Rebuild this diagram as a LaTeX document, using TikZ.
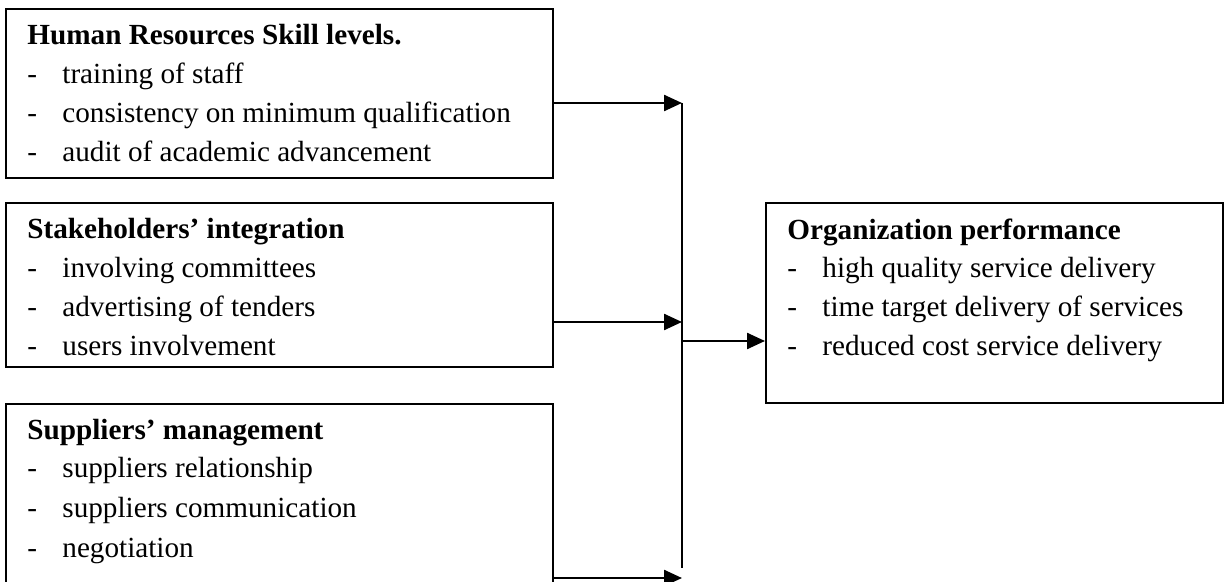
\documentclass[tikz,border=0pt]{standalone}
\usepackage{fontspec}
\setmainfont{Liberation Serif}
\usetikzlibrary{arrows.meta}
\begin{document}
\begin{tikzpicture}[x=0.5pt,y=-0.5pt,
  box/.style={draw,line width=1.1pt,inner sep=0pt,anchor=north west},
  txt/.style={inner sep=0pt,anchor=base west,font=\fontsize{14.6}{19.5}\selectfont},
  hd/.style={txt,font=\fontsize{14.6}{19.5}\selectfont\bfseries},
  conn/.style={line width=1.2pt},
  arr/.style={conn,-{Triangle[length=9pt,width=8pt]}}]
\useasboundingbox (0,0) rectangle (1226,582);
\clip (0,0) rectangle (1226,582);
% boxes
\node[box,minimum width=273.5pt,minimum height=84.5pt] (b1) at (5,8) {};
\node[box,minimum width=273.5pt,minimum height=82pt] (b2) at (5,202) {};
\node[box,minimum width=273.5pt,minimum height=110pt] (b3) at (5,403) {};
\node[box,minimum width=228.5pt,minimum height=100pt] (bo) at (765,202) {};
% box 1 text
\node[hd] (t1) at (27,45) {Human Resources Skill levels.};
\node[txt] (d11) at (27,84) {-}; \node[txt] (l11) at (62,84) {training of staff};
\node[txt] (d12) at (27,123) {-}; \node[txt] (l12) at (62,123) {consistency on minimum qualification};
\node[txt] (d13) at (27,162) {-}; \node[txt] (l13) at (62,162) {audit of academic advancement};
% box 2 text
\node[hd] (t2) at (27,239) {Stakeholders’ integration};
\node[txt] (d21) at (27,278) {-}; \node[txt] (l21) at (62,278) {involving committees};
\node[txt] (d22) at (27,317) {-}; \node[txt] (l22) at (62,317) {advertising of tenders};
\node[txt] (d23) at (27,356) {-}; \node[txt] (l23) at (62,356) {users involvement};
% box 3 text
\node[hd] (t3) at (27,440) {Suppliers’ management};
\node[txt] (d31) at (27,478) {-}; \node[txt] (l31) at (62,478) {suppliers relationship};
\node[txt] (d32) at (27,517) {-}; \node[txt] (l32) at (62,517) {suppliers communication};
\node[txt] (d33) at (27,557) {-}; \node[txt] (l33) at (62,557) {negotiation};
% output box text
\node[hd] (to) at (787,240) {Organization performance};
\node[txt] (do1) at (787,278) {-}; \node[txt] (lo1) at (822,278) {high quality service delivery};
\node[txt] (do2) at (787,317) {-}; \node[txt] (lo2) at (822,317) {time target delivery of services};
\node[txt] (do3) at (787,356) {-}; \node[txt] (lo3) at (822,356) {reduced cost service delivery};
% junctions
\coordinate (j1) at (682,103);
\coordinate (j2) at (682,322);
\coordinate (j3) at (682,578);
\coordinate (jo) at (682,341);
\coordinate (jb) at (682,568);
\draw[conn] (j1) -- (jb);
\draw[arr] (b1.east |- j1) -- (j1);
\draw[arr] (b2.east |- j2) -- (j2);
\draw[arr] (b3.east |- j3) -- (j3);
\draw[arr] (jo) -- (bo.west |- jo);
\end{tikzpicture}
\end{document}
